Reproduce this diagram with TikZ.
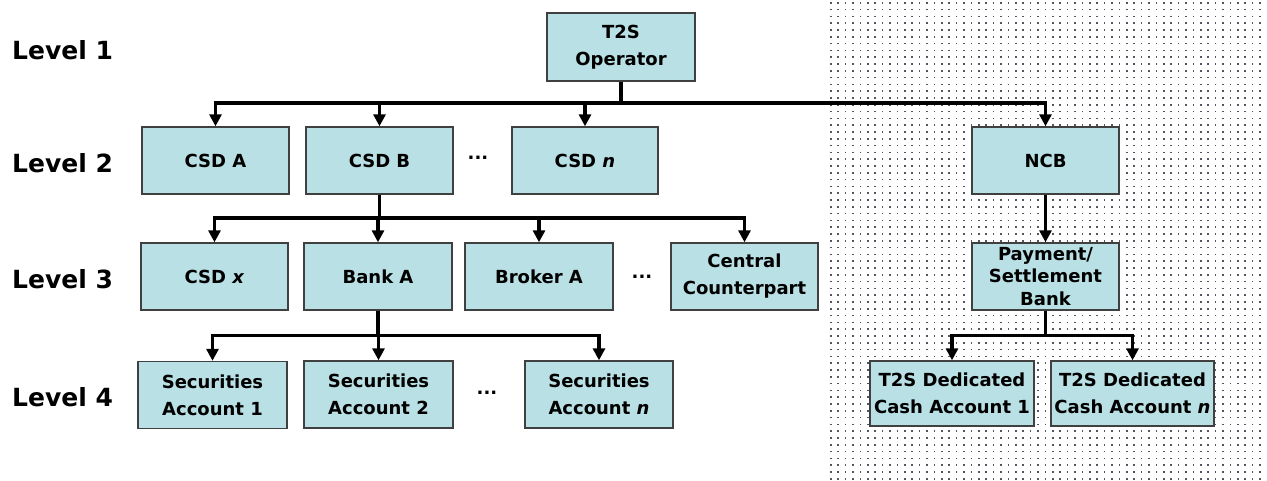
\documentclass[tikz,border=0pt]{standalone}
\usepackage{fontspec}
\setmainfont{DejaVu Sans}
\usepackage{tikz}
\usetikzlibrary{arrows.meta}
\definecolor{boxfill}{RGB}{185,224,228}
\definecolor{boxline}{RGB}{64,64,64}
\definecolor{dotgray}{RGB}{85,85,95}

\begin{document}
\begin{tikzpicture}[x=1pt,y=-1pt]
 \newcommand{\busTop}{103}
 \newcommand{\busMid}{218}
 \newcommand{\busLow}{335.5}
	\tikzset{entity/.style = {rectangle,draw=boxline,line width=1.4pt,fill=boxfill,align=center,
		minimum width=147pt,minimum height=67pt,inner sep=1pt,
		font=\fontsize{18}{27}\selectfont\bfseries}}
	\tikzset{level/.style = {anchor=west,inner sep=0pt,font=\fontsize{25}{30}\selectfont\bfseries}}
	\tikzset{more/.style = {inner sep=0pt,font=\fontsize{18}{22}\selectfont\bfseries}}
	\tikzstyle{edge} = [-{Triangle[width=12pt,length=12pt]},line width=3.2pt]
	\useasboundingbox (0,0) rectangle (1267,480);
	%dotted area
	\foreach \r in {0,...,70} {
		\foreach \c in {0,...,59} {
			\fill[dotgray] (830+7.4*\c,2+6.8*\r) rectangle ++(1.5,1.5);
		}
	}
	\coordinate (bus1) at (0,\busTop);
	\coordinate (bus2) at (0,\busMid);
	\coordinate (bus3) at (0,\busLow);
	%levels
	\node[level] (L1) at (12,50) {Level 1};
	\node[level] (L2) at (12,163) {Level 2};
	\node[level] (L3) at (12,279) {Level 3};
	\node[level] (L4) at (12,397) {Level 4};
	%level 1
	\node[entity,minimum width=148pt,minimum height=68pt] (op) at (621,47) {T2S\\Operator};
	%level 2
	\node[entity] (csdA) at (215.5,160.5) {CSD A};
	\node[entity] (csdB) at (379.5,160.5) {CSD B};
	\node[more] (dots2) at (478,158) {...};
	\node[entity,minimum width=146pt] (csdN) at (585,160.5) {CSD \textit{n}};
	\node[entity] (ncb) at (1045.5,160.5) {NCB};
	%level 3
	\node[entity] (csdX) at (214.5,276.5) {CSD \textit{x}};
	\node[entity,minimum width=148pt] (bankA) at (378,276.5) {Bank A};
	\node[entity,minimum width=148pt] (brokerA) at (539,276.5) {Broker A};
	\node[more] (dots3) at (642,277) {...};
	\node[entity] (ccp) at (744.5,276.5) {Central\\Counterpart};
	\node[entity,font=\fontsize{18}{22.5}\selectfont\bfseries] (payBank) at (1045.5,276.5) {Payment/\\Settlement\\Bank};
	%level 4
	\node[entity,minimum width=149pt] (secAcc1) at (212.5,395) {Securities\\Account 1};
	\node[entity,minimum width=149pt] (secAcc2) at (378.5,394.5) {Securities\\Account 2};
	\node[more] (dots4) at (487,393) {...};
	\node[entity,minimum width=148pt] (secAccN) at (599,394.5) {Securities\\Account \textit{n}};
	\node[entity,minimum width=164pt,minimum height=65pt] (cashAcc1) at (952,393.5) {T2S Dedicated\\Cash Account 1};
	\node[entity,minimum width=163pt,minimum height=65pt] (cashAccN) at (1132.5,393.5) {T2S Dedicated\\Cash Account \textit{n}};
	%operator to level 2
	\draw[edge] (op.south) -- (op.south |- bus1) -| (csdA.north);
	\draw[edge] (op.south) -- (op.south |- bus1) -| (csdB.north);
	\draw[edge] (op.south) -- (op.south |- bus1) -| (csdN.north);
	\draw[edge] (op.south) -- (op.south |- bus1) -| (ncb.north);
	%CSD B to level 3
	\draw[edge] (csdB.south) -- (csdB.south |- bus2) -| (csdX.north);
	\draw[edge] (csdB.south) -- (csdB.south |- bus2) -| (bankA.north);
	\draw[edge] (csdB.south) -- (csdB.south |- bus2) -| (brokerA.north);
	\draw[edge] (csdB.south) -- (csdB.south |- bus2) -| (ccp.north);
	\draw[edge] (ncb) -- (payBank);
	%level 3 to level 4
	\draw[edge] (bankA.south) -- (bankA.south |- bus3) -| (secAcc1.north);
	\draw[edge] (bankA.south) -- (bankA.south |- bus3) -| (secAcc2.north);
	\draw[edge] (bankA.south) -- (bankA.south |- bus3) -| (secAccN.north);
	\draw[edge] (payBank.south) -- (payBank.south |- bus3) -| (cashAcc1.north);
	\draw[edge] (payBank.south) -- (payBank.south |- bus3) -| (cashAccN.north);
\end{tikzpicture}
\end{document}
